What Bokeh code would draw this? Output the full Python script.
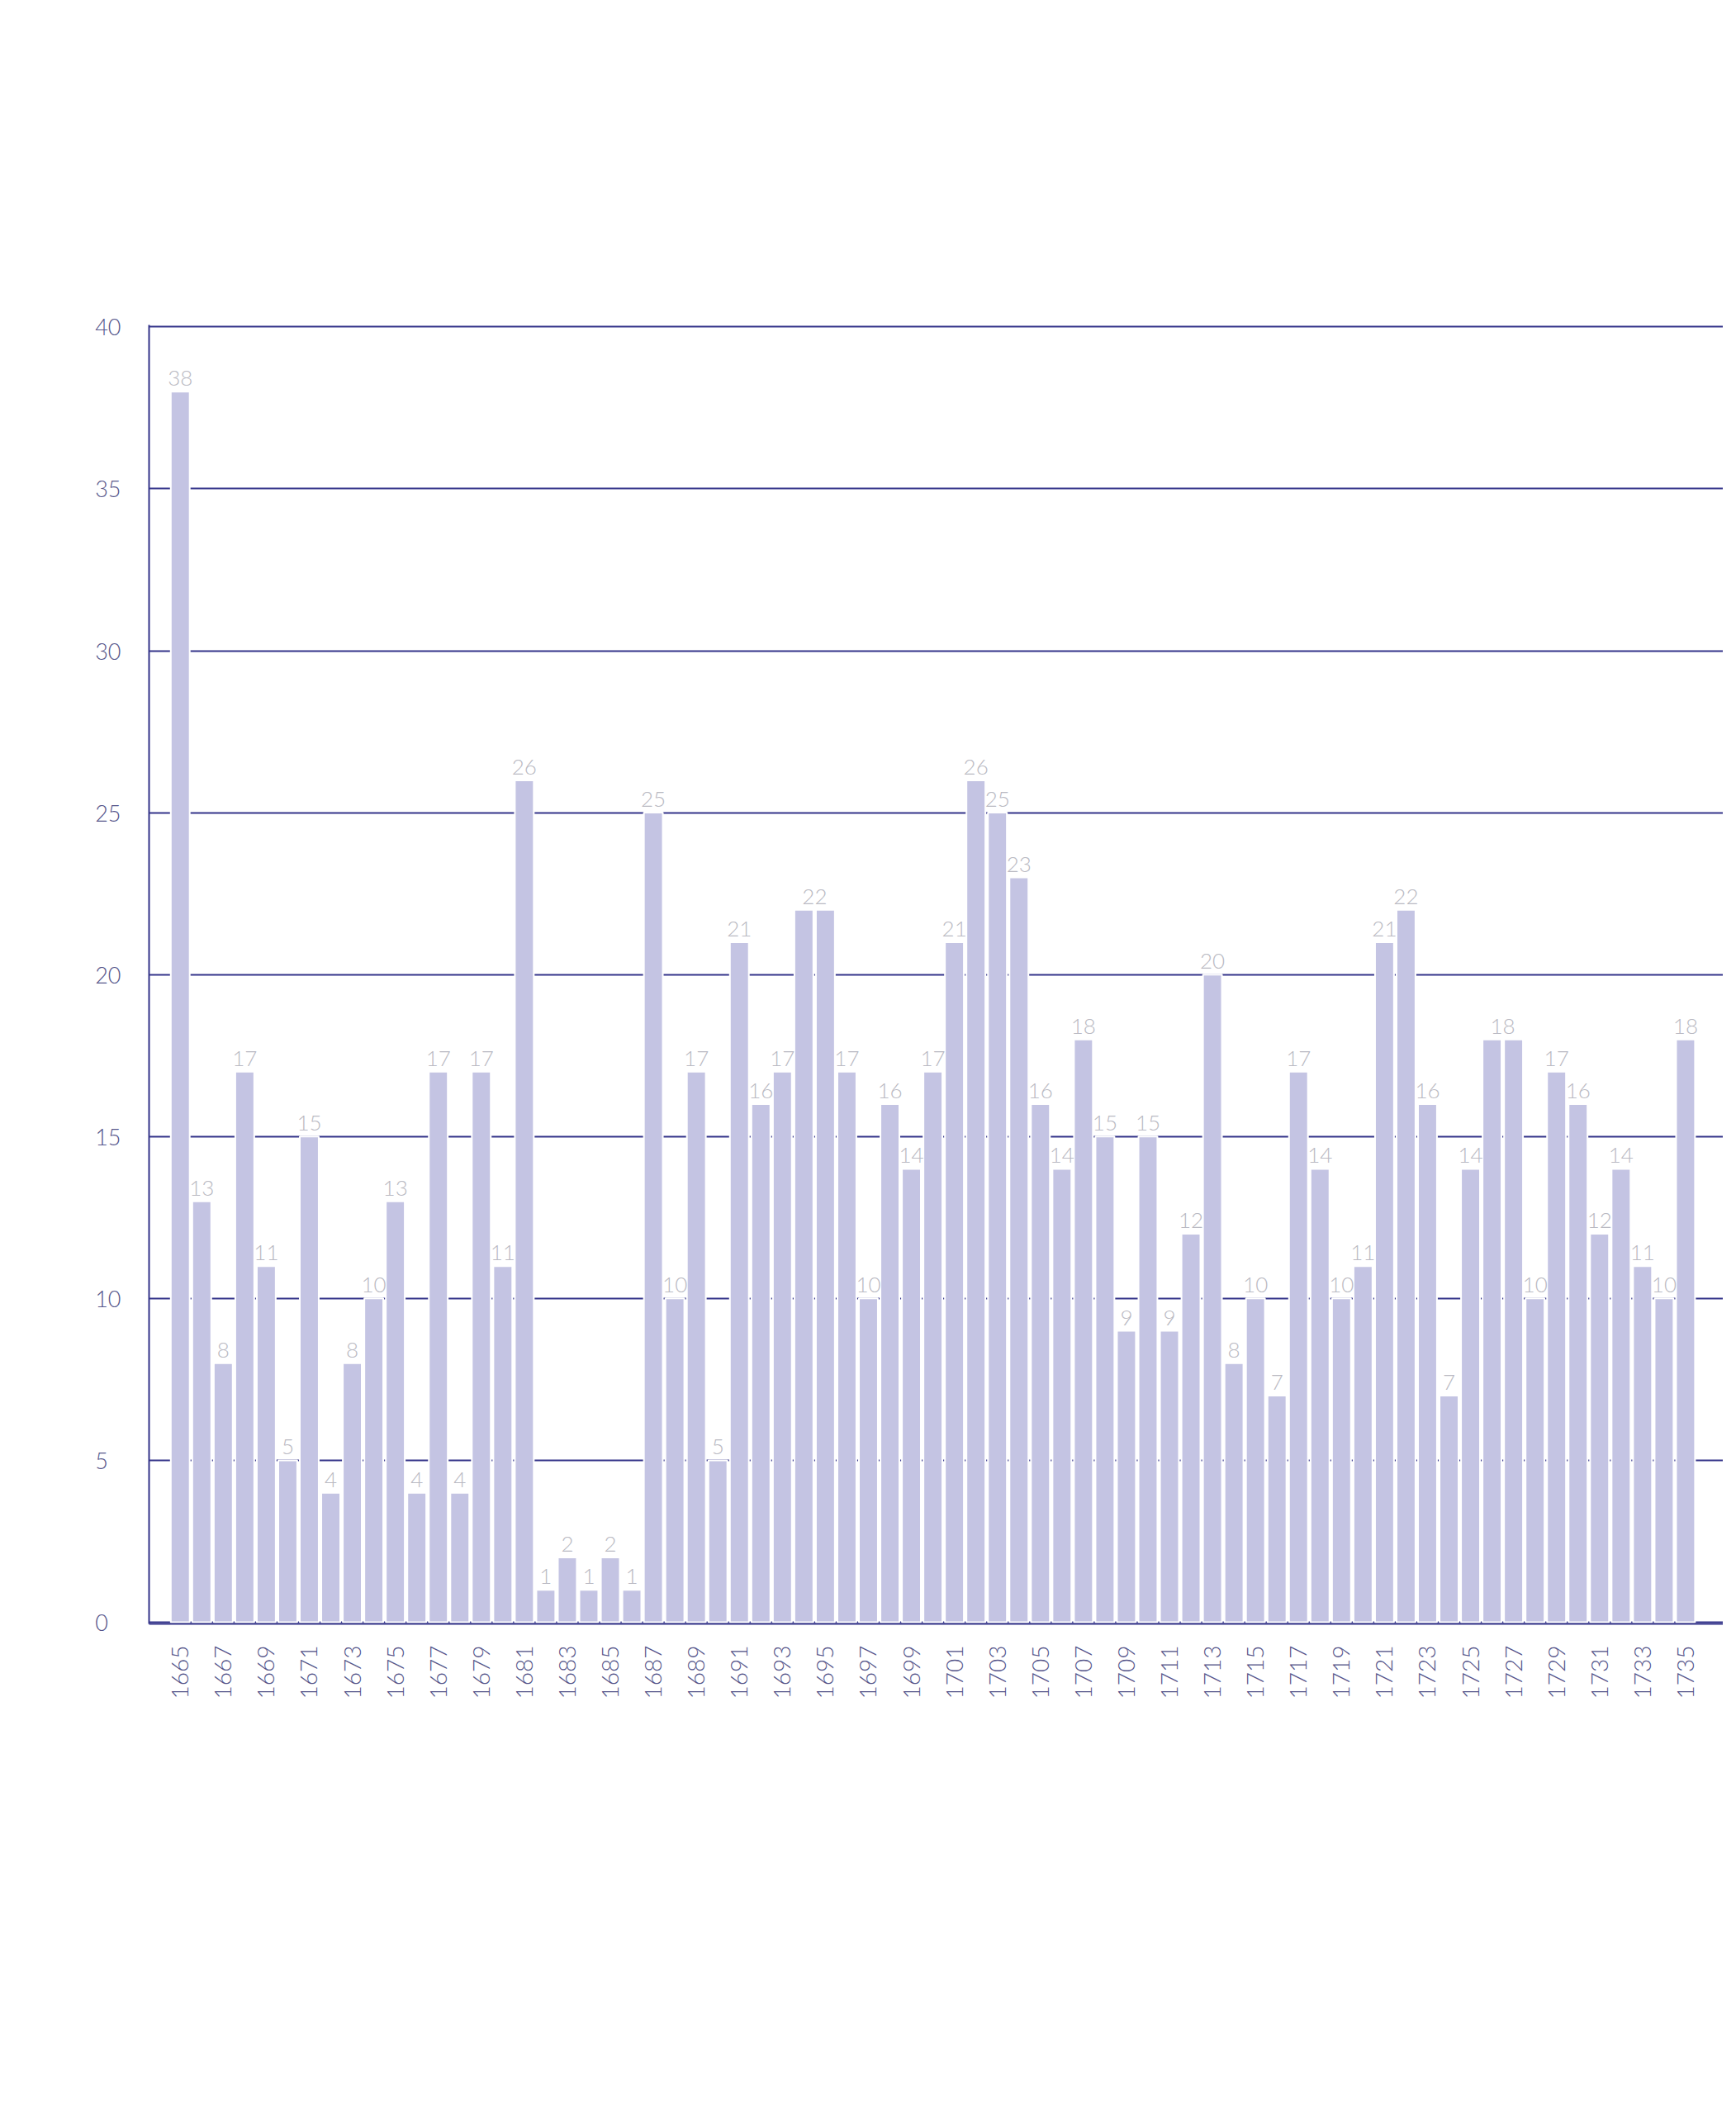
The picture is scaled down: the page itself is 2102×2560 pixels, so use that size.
import numpy as np
from bokeh.plotting import figure
from bokeh.models import Range1d, FixedTicker, ColumnDataSource
from bokeh.core.properties import value
from bokeh.embed import file_html
from bokeh.resources import INLINE

years = list(range(1665, 1736))
counts = [38, 13, 8, 17, 11, 5, 15, 4, 8, 10,
          13, 4, 17, 4, 17, 11, 26, 1, 2, 1,
          2, 1, 25, 10, 17, 5, 21, 16, 17, 22,
          22, 17, 10, 16, 14, 17, 21, 26, 25, 23,
          16, 14, 18, 15, 9, 15, 9, 12, 20, 8,
          10, 7, 17, 14, 10, 11, 21, 22, 16, 7,
          14, 18, 18, 10, 17, 16, 12, 14, 11, 10,
          18]
y_ticks = [0, 5, 10, 15, 20, 25, 30, 35, 40]
x_ticks = years[::2]

BAR = "#c4c4e3"
NAVY = "#34348a"
LABEL = "#b9b9c2"
TICK = "#55558a"
FONT = "Lato Light, Lato"

# value labels: runs of equal neighbouring values share one centred label
lab_x, lab_y, lab_t = [], [], []
i = 0
while i < len(years):
    j = i
    while j + 1 < len(years) and counts[j + 1] == counts[i]:
        j += 1
    lab_x.append((years[i] + years[j]) / 2)
    lab_y.append(counts[i])
    lab_t.append(str(counts[i]))
    i = j + 1

W, H = 2086, 2540
p = figure(width=W, height=H, output_backend="svg", toolbar_location=None,
           title=None,
           x_range=Range1d(1663.55, 1736.75), y_range=Range1d(-0.05, 40.06),
           min_border_left=180, min_border_top=393, min_border_bottom=574,
           min_border_right=0)
p.outline_line_color = None
p.background_fill_color = "white"
p.border_fill_color = "white"

p.xgrid.grid_line_color = None
p.ygrid.ticker = FixedTicker(ticks=y_ticks)
p.ygrid.grid_line_color = NAVY
p.ygrid.grid_line_width = 2

p.vbar(x=years, top=counts, width=0.88, bottom=0,
       fill_color=BAR, line_color="white", line_width=2)

src = ColumnDataSource(dict(x=lab_x, y=lab_y, t=lab_t))
p.text(x="x", y="y", text="t", source=src, text_align="center",
       text_baseline="alphabetic", y_offset=-16,
       text_font=value(FONT), text_font_size="26px", text_color=LABEL)

ya = p.yaxis[0]
ya.ticker = FixedTicker(ticks=y_ticks)
ya.axis_line_color = NAVY
ya.axis_line_width = 2
ya.major_tick_line_color = None
ya.minor_tick_line_color = None
ya.major_label_standoff = 28
ya.major_label_text_font = FONT
ya.major_label_text_font_size = "27px"
ya.major_label_text_color = TICK
ya.major_label_overrides = {t: str(t) + "\u2007" for t in y_ticks if t < 10}

xa = p.xaxis[0]
xa.ticker = FixedTicker(ticks=x_ticks)
xa.axis_line_color = NAVY
xa.axis_line_width = 2
xa.major_tick_line_color = None
xa.minor_tick_line_color = None
xa.major_label_orientation = np.pi / 2
xa.major_label_standoff = 20
xa.major_label_text_font = FONT
xa.major_label_text_font_size = "28px"
xa.major_label_text_color = TICK

open("out.html", "w").write(file_html(p, INLINE))
